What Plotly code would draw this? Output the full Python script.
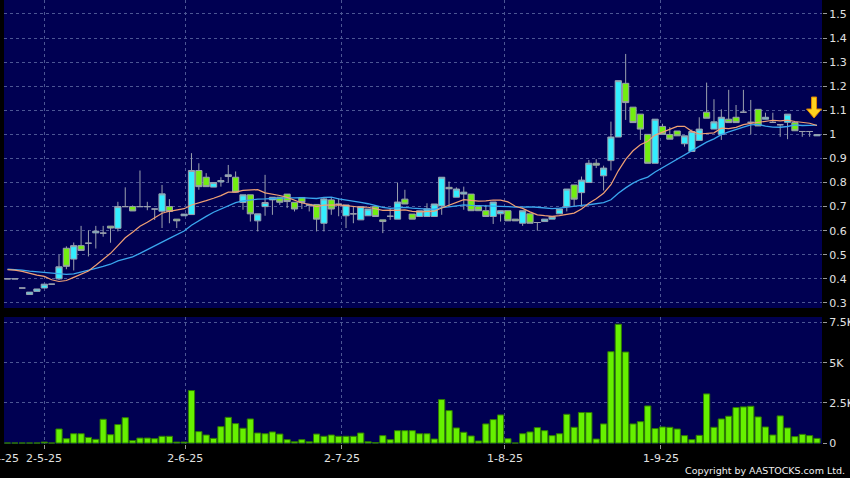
import plotly.graph_objects as go

# ---------------- data ----------------
opens = [0.40, 0.40, 0.362, 0.335, 0.348, 0.362, 0.378, 0.40, 0.527, 0.482,
         0.538, 0.548, 0.591, 0.59, 0.619, 0.61, 0.70, 0.70, 0.70, 0.70,
         0.69, 0.681, 0.70, 0.648, 0.662, 0.667, 0.85, 0.822, 0.781, 0.803,
         0.825, 0.822, 0.717, 0.749, 0.641, 0.70, 0.728, 0.739, 0.752, 0.718,
         0.738, 0.705, 0.709, 0.631, 0.728, 0.71, 0.662, 0.67, 0.645, 0.662,
         0.70, 0.645, 0.66, 0.648, 0.731, 0.669, 0.659, 0.659, 0.659, 0.703,
         0.78, 0.739, 0.752, 0.752, 0.70, 0.683, 0.659, 0.670, 0.683, 0.648,
         0.631, 0.67, 0.634, 0.638, 0.648, 0.67, 0.70, 0.79, 0.758, 0.80,
         0.88, 0.828, 0.891, 0.989, 1.212, 1.113, 1.084, 1.0, 0.88, 1.033,
         0.999, 1.014, 0.961, 0.929, 0.975, 1.092, 1.022, 1.0, 1.063, 1.071,
         1.092, 1.05, 1.104, 1.063, 1.05, 1.04, 1.05, 1.049, 1.012, 1.012,
         0.994]
highs = [0.40, 0.40, 0.362, 0.345, 0.358, 0.378, 0.378, 0.50, 0.535, 0.551,
         0.62, 0.602, 0.62, 0.62, 0.619, 0.72, 0.78, 0.705, 0.85, 0.72,
         0.69, 0.79, 0.731, 0.648, 0.669, 0.922, 0.88, 0.839, 0.80, 0.822,
         0.873, 0.846, 0.749, 0.749, 0.67, 0.832, 0.739, 0.739, 0.752, 0.718,
         0.738, 0.709, 0.709, 0.739, 0.739, 0.735, 0.707, 0.70, 0.70, 0.69,
         0.70, 0.645, 0.69, 0.80, 0.77, 0.669, 0.683, 0.714, 0.711, 0.822,
         0.804, 0.78, 0.783, 0.752, 0.70, 0.707, 0.719, 0.683, 0.683, 0.648,
         0.683, 0.67, 0.634, 0.648, 0.659, 0.69, 0.773, 0.79, 0.825, 0.894,
         0.897, 0.87, 1.053, 1.223, 1.334, 1.113, 1.084, 1.0, 1.063, 1.044,
         1.03, 1.014, 0.994, 1.02, 1.071, 1.215, 1.146, 1.104, 1.185, 1.122,
         1.185, 1.143, 1.104, 1.09, 1.09, 1.04, 1.084, 1.049, 1.012, 1.012,
         0.999]
lows = [0.40, 0.40, 0.362, 0.335, 0.348, 0.362, 0.378, 0.395, 0.44, 0.435,
        0.518, 0.493, 0.526, 0.575, 0.55, 0.597, 0.70, 0.682, 0.70, 0.685,
        0.645, 0.611, 0.631, 0.611, 0.662, 0.667, 0.77, 0.783, 0.781, 0.783,
        0.80, 0.76, 0.687, 0.638, 0.597, 0.662, 0.666, 0.707, 0.694, 0.68,
        0.69, 0.68, 0.597, 0.597, 0.666, 0.66, 0.611, 0.631, 0.645, 0.662,
        0.659, 0.59, 0.645, 0.648, 0.711, 0.648, 0.659, 0.659, 0.659, 0.666,
        0.70, 0.739, 0.687, 0.683, 0.683, 0.659, 0.628, 0.638, 0.641, 0.641,
        0.62, 0.631, 0.60, 0.638, 0.648, 0.67, 0.68, 0.70, 0.70, 0.80,
        0.86, 0.767, 0.85, 0.989, 1.06, 1.049, 0.977, 0.88, 0.88, 1.0,
        0.98, 0.994, 0.949, 0.929, 0.975, 1.067, 1.022, 0.977, 1.049, 1.049,
        1.092, 1.0, 1.035, 1.063, 1.05, 0.99, 0.98, 1.015, 0.99, 0.99,
        0.994]
closes = [0.40, 0.40, 0.362, 0.345, 0.358, 0.378, 0.378, 0.45, 0.452, 0.538,
          0.518, 0.548, 0.598, 0.59, 0.611, 0.70, 0.70, 0.682, 0.70, 0.70,
          0.69, 0.753, 0.68, 0.641, 0.669, 0.85, 0.783, 0.783, 0.80, 0.808,
          0.832, 0.76, 0.749, 0.67, 0.67, 0.717, 0.739, 0.718, 0.721, 0.69,
          0.717, 0.709, 0.648, 0.732, 0.69, 0.71, 0.707, 0.67, 0.70, 0.69,
          0.659, 0.638, 0.66, 0.719, 0.711, 0.648, 0.683, 0.691, 0.711, 0.822,
          0.774, 0.773, 0.76, 0.683, 0.683, 0.659, 0.719, 0.683, 0.641, 0.641,
          0.683, 0.631, 0.634, 0.648, 0.659, 0.69, 0.773, 0.731, 0.81, 0.88,
          0.872, 0.86, 0.989, 1.223, 1.132, 1.049, 1.022, 0.88, 1.063, 1.0,
          0.98, 0.994, 0.994, 1.012, 1.022, 1.067, 1.052, 1.071, 1.049, 1.049,
          1.092, 1.05, 1.035, 1.071, 1.05, 1.04, 1.084, 1.015, 1.012, 1.012,
          0.999]
# closes before the visible window (estimated), needed for the moving averages
prior_closes = [0.42, 0.42, 0.42, 0.42, 0.42, 0.42, 0.485, 0.485, 0.485, 0.485,
                0.38, 0.415, 0.415, 0.43, 0.43, 0.43, 0.52, 0.52, 0.41, 0.41]
volumes_k = [0, 0, 0, 0, 0, 0.06, 0, 0.875, 0.27, 0.58,
             0.58, 0.35, 0.23, 1.48, 0.52, 1.15, 1.58, 0.15, 0.31, 0.31,
             0.27, 0.42, 0.42, 0.06, 0.06, 3.27, 0.71, 0.5, 0.29, 1.02,
             1.6, 1.21, 0.92, 1.5, 0.625, 0.58, 0.69, 0.56, 0.21, 0.08,
             0.21, 0.08, 0.56, 0.42, 0.5, 0.42, 0.42, 0.42, 0.625, 0.08,
             0.02, 0.46, 0.21, 0.77, 0.77, 0.77, 0.58, 0.58, 0.25, 2.71,
             2.02, 0.94, 0.67, 0.44, 0.125, 1.19, 1.46, 1.75, 0.27, 0,
             0.58, 0.69, 0.96, 0.77, 0.46, 0.58, 1.79, 0.98, 1.9, 1.9,
             0.25, 1.19, 5.69, 7.4, 5.67, 1.19, 1.33, 2.31, 0.9, 1.0,
             0.98, 0.875, 0.46, 0.21, 0.48, 3.06, 0.98, 1.5, 1.67, 2.21,
             2.25, 2.29, 1.625, 1.0, 0.5, 1.69, 0.94, 0.4, 0.54, 0.46,
             0.29]
month_tick_pos = [-0.88, 4.96, 24.16, 45.45, 67.6, 88.8]
month_tick_labels = ["2-4-25", "2-5-25", "2-6-25", "2-7-25", "1-8-25", "1-9-25"]
price_ticks = [0.3, 0.4, 0.5, 0.6, 0.7, 0.8, 0.9, 1.0, 1.1, 1.2, 1.3, 1.4, 1.5]
price_tick_labels = ["0.3", "0.4", "0.5", "0.6", "0.7", "0.8", "0.9", "1",
                     "1.1", "1.2", "1.3", "1.4", "1.5"]
vol_ticks = [0, 2.5, 5, 7.5]
vol_tick_labels = ["0", "2.5K", "5K", "7.5K"]

# ---------------- derived ----------------
n = len(closes)
idx = list(range(n))
allc = prior_closes + closes
off = len(prior_closes)
ma10 = [sum(allc[i + off - 9:i + off + 1]) / 10 for i in range(n)]
ma20 = [sum(allc[i + off - 19:i + off + 1]) / 20 for i in range(n)]

BG = "#000000"
PLOT_BG = "#000052"
GRID = "#4c5694"
TXT = "#e2e2e2"
FONT = "DejaVu Sans"

fig = go.Figure()
fig.add_trace(go.Candlestick(
    x=idx, open=opens, high=highs, low=lows, close=closes,
    increasing=dict(fillcolor="#33eeff", line=dict(color="#9aa0ae", width=1)),
    decreasing=dict(fillcolor="#72ee10", line=dict(color="#9aa0ae", width=1)),
    whiskerwidth=0, xaxis="x", yaxis="y", hoverinfo="skip", showlegend=False))
fig.add_trace(go.Scatter(x=idx, y=ma20, mode="lines",
                         line=dict(color="#3aa6ee", width=1.3),
                         xaxis="x", yaxis="y", hoverinfo="skip", showlegend=False))
fig.add_trace(go.Scatter(x=idx, y=ma10, mode="lines",
                         line=dict(color="#f0a074", width=1.2),
                         xaxis="x", yaxis="y", hoverinfo="skip", showlegend=False))
fig.add_trace(go.Bar(x=idx, y=volumes_k,
                     marker=dict(color="#66f000", line=dict(color="#2f7d00", width=1)),
                     xaxis="x2", yaxis="y2", hoverinfo="skip", showlegend=False))

# arrow marker above the last candle
ax_c = n - 1 - 0.4
px_x = 1 / 7.36
px_y = 1 / 241.0
tip = 1.068
p = [(ax_c - 2.5 * px_x, tip + 21 * px_y), (ax_c + 2.5 * px_x, tip + 21 * px_y),
     (ax_c + 2.5 * px_x, tip + 9 * px_y), (ax_c + 7.5 * px_x, tip + 9 * px_y),
     (ax_c, tip), (ax_c - 7.5 * px_x, tip + 9 * px_y),
     (ax_c - 2.5 * px_x, tip + 9 * px_y)]
path = "M " + " L ".join(f"{a:.4f},{b:.4f}" for a, b in p) + " Z"

x_range = [-0.476, 110.68]
first_tick_paper = (month_tick_pos[0] - x_range[0]) / (x_range[1] - x_range[0])
axis_common = dict(showline=False, zeroline=False, automargin=False)

fig.update_layout(
    width=850, height=478,
    margin=dict(l=4, r=28, t=0, b=34, autoexpand=False),
    paper_bgcolor=BG, plot_bgcolor=PLOT_BG,
    font=dict(family=FONT, size=11, color=TXT),
    boxgap=0.16, boxgroupgap=0, bargap=0.16,
    hovermode=False, showlegend=False,
    xaxis=dict(domain=[0, 1], anchor="y", range=x_range,
               tickvals=month_tick_pos[1:], ticktext=month_tick_labels[1:],
               showticklabels=False, ticks="", showgrid=True,
               gridcolor=GRID, griddash="3px,3px", gridwidth=1,
               rangeslider=dict(visible=False), **axis_common),
    yaxis=dict(domain=[0.3063, 1], anchor="x", side="right",
               range=[0.279, 1.558], tickvals=price_ticks, ticktext=price_tick_labels,
               ticks="outside", ticklen=4, tickcolor="#9a9a9a",
               showgrid=True, gridcolor=GRID, griddash="3px,3px", gridwidth=1,
               **axis_common),
    xaxis2=dict(domain=[0, 1], anchor="y2", range=x_range, matches="x",
                tickvals=month_tick_pos[1:], ticktext=month_tick_labels[1:],
                ticks="outside", ticklen=4, tickcolor="#9a9a9a",
                showgrid=True, gridcolor=GRID, griddash="3px,3px", gridwidth=1,
                **axis_common),
    yaxis2=dict(domain=[0, 0.286], anchor="x2", side="right",
                range=[-0.06, 7.85], tickvals=vol_ticks, ticktext=vol_tick_labels,
                ticks="outside", ticklen=4, tickcolor="#9a9a9a",
                showgrid=True, gridcolor=GRID, griddash="3px,3px", gridwidth=1,
                **axis_common),
    shapes=[dict(type="path", path=path, xref="x", yref="y",
                 fillcolor="#ffd21e", line=dict(color="#e08600", width=1))],
    annotations=[
        dict(x=first_tick_paper, xref="paper", xanchor="center", y=0, yref="paper",
             yanchor="top", yshift=-6, text=month_tick_labels[0], showarrow=False,
             font=dict(family=FONT, size=11, color=TXT)),
        dict(x=1.0306, xref="paper", y=-0.059, yref="paper", xanchor="right",
             yanchor="middle", text="Copyright by AASTOCKS.com Ltd.",
             showarrow=False, font=dict(family=FONT, size=9.5, color="#f0f0f0")),
    ],
)

fig.write_html("out.html",
               config={"displayModeBar": False, "staticPlot": True},
               post_script="document.body.style.margin='0';"
                           "document.body.style.overflow='hidden';"
                           "document.body.style.background='#000';")
